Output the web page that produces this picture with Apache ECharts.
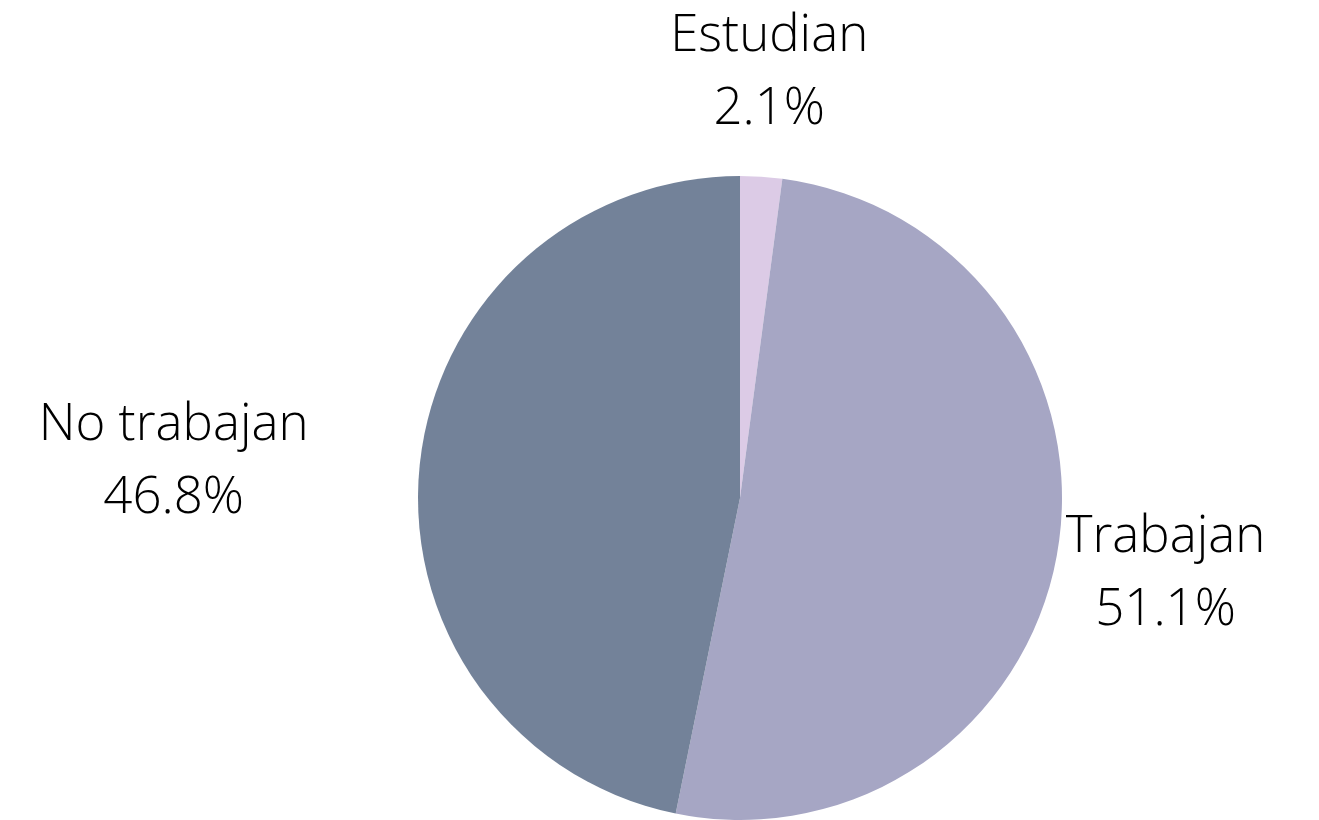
<!DOCTYPE html>
<html>
<head>
<meta charset="utf-8">
<title>Estudian / Trabajan / No trabajan</title>
<script src="https://cdn.jsdelivr.net/npm/echarts@6/dist/echarts.min.js"></script>
<style>
  html, body { margin: 0; padding: 0; background: #fff; }
  #chart { width: 1319px; height: 820px; }
</style>
</head>
<body>
<div id="chart"></div>
<script>
const categories = ["Estudian", "Trabajan", "No trabajan"];
const shares = [2.1, 51.1, 46.8];
const sliceColors = ["#dccbe6", "#a6a6c4", "#738299"];

// where each label sits relative to the edge of its slice (px)
const labelNudge = [[8, -104], [108, 23], [-246, -4]];

const chart = echarts.init(document.getElementById("chart"));

chart.setOption({
  animation: false,
  backgroundColor: "#fff",
  series: [{
    type: "pie",
    center: [740, 498],
    radius: 322,
    startAngle: 90,
    clockwise: true,
    avoidLabelOverlap: false,
    silent: true,
    emphasis: { disabled: true },
    data: categories.map((name, i) => ({
      name,
      value: shares[i],
      itemStyle: { color: sliceColors[i] },
    })),
    itemStyle: { borderWidth: 0 },
    label: {
      show: true,
      position: "outside",
      formatter: "{b}\n{c}%",
      fontFamily: "Open Sans",
      fontWeight: 300,
      fontSize: 51,
      lineHeight: 73,
      color: "#000",
      distanceToLabelLine: 0,
    },
    labelLine: { show: false, length: 0, length2: 0 },
    labelLayout: (params) => {
      const r = params.labelRect;
      let ax = r.x + r.width / 2;
      if (params.align === "left") ax = r.x;
      else if (params.align === "right") ax = r.x + r.width;
      const ay = r.y + r.height / 2;
      const n = labelNudge[params.dataIndex];
      return { x: ax + n[0], y: ay + n[1], align: "center", verticalAlign: "middle" };
    },
  }],
});

window.addEventListener("resize", () => chart.resize());
</script>
</body>
</html>
